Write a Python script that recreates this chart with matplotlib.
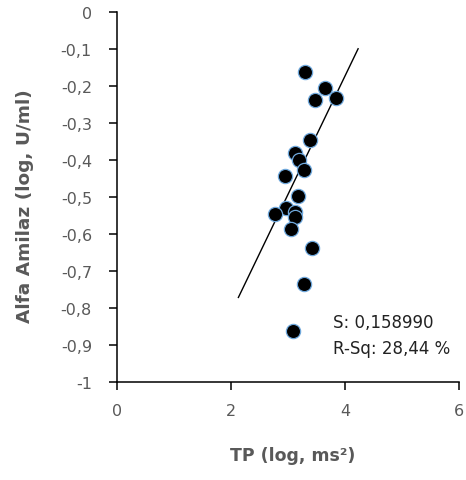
import matplotlib
matplotlib.use("Agg")
import matplotlib.pyplot as plt
import numpy as np

# Data
tp_log = [3.30, 3.65, 3.47, 3.84, 3.39, 3.13, 3.20, 3.28, 2.95, 3.17,
          2.96, 2.78, 3.13, 3.13, 3.05, 3.42, 3.28, 3.09]
amilaz_log = [-0.163, -0.205, -0.238, -0.233, -0.345, -0.382, -0.400, -0.428,
              -0.443, -0.496, -0.530, -0.547, -0.541, -0.553, -0.586, -0.639,
              -0.736, -0.861]

fit_slope = 0.32
fit_intercept = -1.453
fit_x_range = [2.13, 4.23]

x_ticks = [0, 2, 4, 6]
x_tick_labels = ["0", "2", "4", "6"]
y_ticks = [0, -0.1, -0.2, -0.3, -0.4, -0.5, -0.6, -0.7, -0.8, -0.9, -1]
y_tick_labels = ["0", "-0,1", "-0,2", "-0,3", "-0,4", "-0,5", "-0,6",
                 "-0,7", "-0,8", "-0,9", "-1"]

stats_text = ["S: 0,158990", "R-Sq: 28,44 %"]
x_label = "TP (log, ms²)"
y_label = "Alfa Amilaz (log, U/ml)"

plt.rcParams['font.family'] = ['DejaVu Sans']
grey = "#595959"

fig = plt.figure(figsize=(4.66, 4.81), dpi=100)
ax = fig.add_axes([0.251, 0.2037, 0.734, 0.7693])

fx = np.array(fit_x_range)
ax.plot(fx, fit_slope * fx + fit_intercept, color="black", lw=1.0, zorder=2)

ax.scatter(tp_log, amilaz_log, s=105, color="black", edgecolors="#6fa8dc",
           linewidths=0.9, zorder=3)

ax.set_xlim(0, 6)
ax.set_ylim(-1, 0)
ax.set_xticks(x_ticks)
ax.set_xticklabels(x_tick_labels)
ax.set_yticks(y_ticks)
ax.set_yticklabels(y_tick_labels)

for s in ["top", "right"]:
    ax.spines[s].set_visible(False)
for s in ["left", "bottom"]:
    ax.spines[s].set_color("black")
    ax.spines[s].set_linewidth(1.1)

ax.tick_params(axis="both", direction="out", length=6, width=1.1,
               colors="black", labelcolor=grey, labelsize=11.5)
ax.tick_params(axis="x", pad=9)
ax.tick_params(axis="y", pad=12)

ax.set_xlabel(x_label, color=grey, fontsize=12.5, fontweight="bold", labelpad=20)
ax.set_ylabel(y_label, color=grey, fontsize=13.3, fontweight="bold", labelpad=19)
ax.xaxis.label.set_x(0.515)
ax.yaxis.label.set_y(0.478)

ax.text(3.79, -0.837, stats_text[0], fontsize=12, color="#222222", va="center")
ax.text(3.79, -0.907, stats_text[1], fontsize=12, color="#222222", va="center")

fig.savefig("out.png", dpi=100)
